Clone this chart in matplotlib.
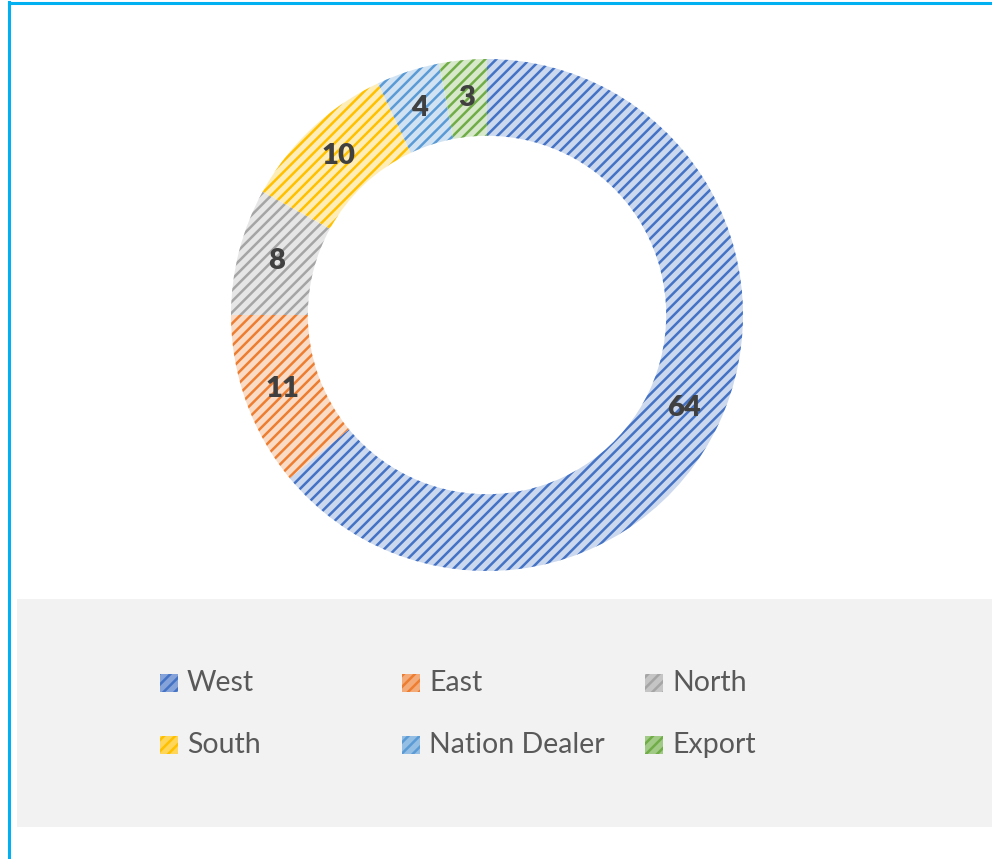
import numpy as np
import matplotlib.pyplot as plt
from matplotlib.patches import Rectangle
from matplotlib.colors import to_rgb
from matplotlib.lines import Line2D

plt.rcParams['font.family'] = ['Lato', 'DejaVu Sans']
plt.rcParams['hatch.linewidth'] = 1.8

# share of sales by region
regions = ['West', 'East', 'North', 'South', 'Nation Dealer', 'Export']
values = [64, 11, 8, 10, 4, 3]
colors = ['#4472C4', '#ED7D31', '#A5A5A5', '#FFC000', '#5B9BD5', '#70AD47']


def tint(c, amt=0.72):
    r, g, b = to_rgb(c)
    return (r + (1 - r) * amt, g + (1 - g) * amt, b + (1 - b) * amt)


W, H = 992, 859
fig = plt.figure(figsize=(W / 100, H / 100), dpi=100)
fig.patch.set_facecolor('white')

# outer frame (left and top edges visible)
fig.add_artist(Line2D([9 / W, 9 / W], [0, 1 - 2 / H], color='#00B0F0', lw=2.2,
                      transform=fig.transFigure))
fig.add_artist(Line2D([9 / W, 1], [1 - 3 / H, 1 - 3 / H], color='#00B0F0', lw=2.2,
                      transform=fig.transFigure))

# legend band
fig.add_artist(Rectangle((17 / W, (H - 827) / H), (W - 17) / W, 228 / H,
                         transform=fig.transFigure, facecolor='#F2F2F2',
                         edgecolor='none', zorder=0))

# donut
cx, cy, r = 487, 315, 256
ax = fig.add_axes([(cx - r) / W, (H - cy - r) / H, 2 * r / W, 2 * r / H])
wedges, _ = ax.pie(values, startangle=90, counterclock=False, radius=1,
                   wedgeprops=dict(width=0.30, linewidth=0))
for w, c in zip(wedges, colors):
    w.set_facecolor(tint(c))
    w.set_edgecolor(c)
    w.set_hatch('///')
    w.set_linewidth(0)

# value labels at the middle of each ring segment
start = 90.0
total = sum(values)
for v in values:
    ang = np.deg2rad(start - v / total * 360 / 2)
    rr = 0.85
    ax.text(rr * np.cos(ang), rr * np.sin(ang), str(v), ha='center', va='center',
            fontsize=21, fontweight='heavy', color='#404040')
    start -= v / total * 360
ax.set_xlim(-1, 1)
ax.set_ylim(-1, 1)
ax.set_aspect('equal')
ax.axis('off')

# legend entries, laid out row by row
col_x = [160, 402, 645]
row_y = [683, 745]
for i, (name, c) in enumerate(zip(regions, colors)):
    x = col_x[i % 3]
    y = row_y[i // 3]
    fig.add_artist(Rectangle((x / W, (H - y - 9) / H), 18 / W, 18 / H,
                             transform=fig.transFigure, facecolor=tint(c, 0.35),
                             edgecolor=c, hatch='///', linewidth=0, zorder=2))
    fig.text((x + 27) / W, (H - y) / H, name, ha='left', va='center',
             fontsize=20.5, color='#595959')

fig.savefig('out.png', dpi=100)
